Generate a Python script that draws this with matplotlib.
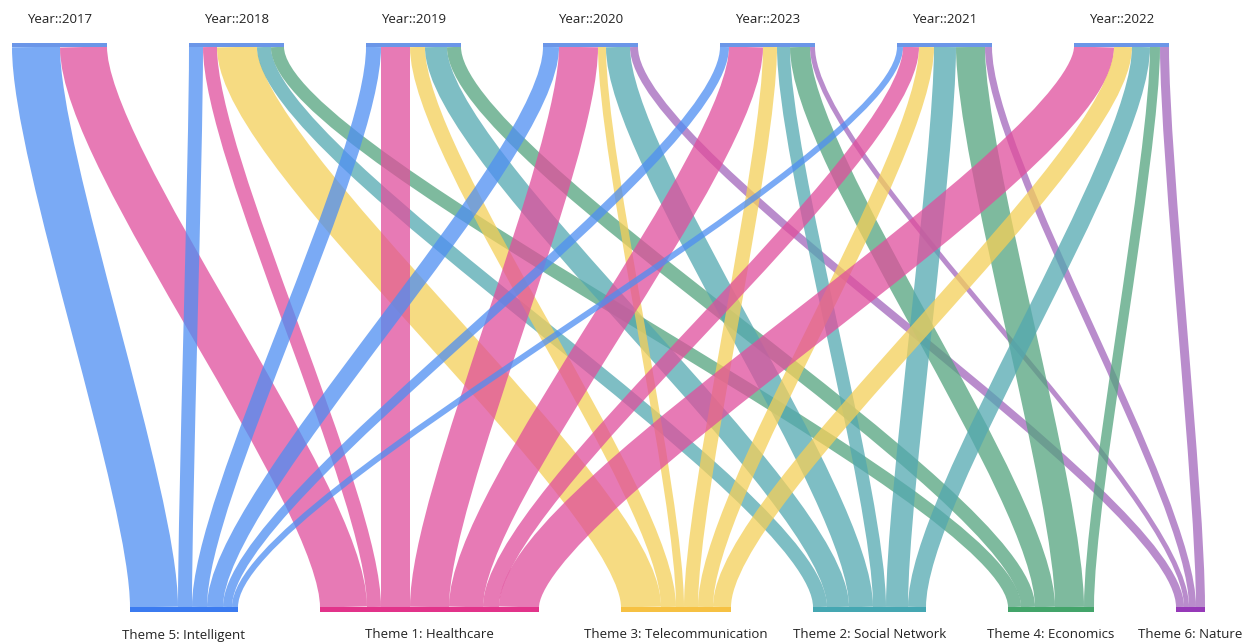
import matplotlib
matplotlib.use("Agg")
import matplotlib.pyplot as plt
from matplotlib.path import Path
from matplotlib.patches import PathPatch, Rectangle

# ---------------- data ----------------
years = ["Year::2017", "Year::2018", "Year::2019", "Year::2020",
         "Year::2023", "Year::2021", "Year::2022"]
themes = ["Theme 5: Intelligent", "Theme 1: Healthcare", "Theme 3: Telecommunication",
          "Theme 2: Social Network", "Theme 4: Economics", "Theme 6: Nature"]

# flow values: rows = years (order above), columns = themes (order above)
y2017 = [48, 47, 0, 0, 0, 0]
y2018 = [14, 14, 40, 14, 13, 0]
y2019 = [15, 29, 15, 22, 14, 0]
y2020 = [16, 39, 8, 24, 0, 8]
y2023 = [9, 34, 14, 13, 20, 5]
y2021 = [6, 16, 15, 22, 29, 7]
y2022 = [0, 40, 18, 18, 10, 9]
flows = [y2017, y2018, y2019, y2020, y2023, y2021, y2022]

# ---------------- style ----------------
link_colors = ["#4e8ef2", "#e04e9c", "#f4cf58", "#53a8b0", "#53a37e", "#a266bc"]
node_colors = ["#3b7bf0", "#e2338a", "#f6c143", "#45a7b2", "#43a46a", "#9639b8"]
year_bar_color = "#6b96e8"
link_alpha = 0.75

W, H, DPI = 1255, 644, 100
fig = plt.figure(figsize=(W / DPI, H / DPI), dpi=DPI)
ax = fig.add_axes([0, 0, 1, 1])
ax.set_xlim(0, W)
ax.set_ylim(H, 0)
ax.axis("off")

top_y0, top_y1 = 43, 47
bot_y0, bot_y1 = 607, 612
gap = 82
top_start = 12
bot_start = 130
curv = 0.2  # control-point offset as fraction of link height

n_y, n_t = len(years), len(themes)
year_tot = [sum(r) for r in flows]
theme_tot = [sum(flows[i][j] for i in range(n_y)) for j in range(n_t)]

year_x = []
x = top_start
for t in year_tot:
    year_x.append(x)
    x += t + gap
theme_x = []
x = bot_start
for t in theme_tot:
    theme_x.append(x)
    x += t + gap

src_off = [0.0] * n_y
tgt_off = [0.0] * n_t
src_pos = {}
for i in range(n_y):
    for j in range(n_t):
        v = flows[i][j]
        if v > 0:
            src_pos[(i, j)] = year_x[i] + src_off[i] + v / 2
            src_off[i] += v
tgt_pos = {}
for j in range(n_t):
    for i in range(n_y):
        v = flows[i][j]
        if v > 0:
            tgt_pos[(i, j)] = theme_x[j] + tgt_off[j] + v / 2
            tgt_off[j] += v

dy = bot_y0 - top_y1
c1 = top_y1 + curv * dy
c2 = bot_y0 - curv * dy
for i in range(n_y):
    for j in range(n_t):
        v = flows[i][j]
        if v <= 0:
            continue
        xs, xt = src_pos[(i, j)], tgt_pos[(i, j)]
        path = Path([(xs, top_y1), (xs, c1), (xt, c2), (xt, bot_y0)],
                    [Path.MOVETO, Path.CURVE4, Path.CURVE4, Path.CURVE4])
        p = PathPatch(path, fill=False, edgecolor=link_colors[j], alpha=link_alpha,
                      linewidth=v * 72 / DPI, capstyle="butt", joinstyle="round")
        ax.add_patch(p)

font = ["Open Sans", "DejaVu Sans"]
for i in range(n_y):
    ax.add_patch(Rectangle((year_x[i], top_y0), year_tot[i], top_y1 - top_y0,
                           facecolor=year_bar_color, edgecolor="none"))
    ax.text(year_x[i] + year_tot[i] / 2, 19, years[i], ha="center", va="center",
            fontsize=9.5, family=font, color="#222222")
for j in range(n_t):
    ax.add_patch(Rectangle((theme_x[j], bot_y0), theme_tot[j], bot_y1 - bot_y0,
                           facecolor=node_colors[j], edgecolor="none"))
    ax.text(theme_x[j] + theme_tot[j] / 2, 635, themes[j], ha="center", va="center",
            fontsize=9.5, family=font, color="#222222")

fig.savefig("out.png", dpi=DPI)
